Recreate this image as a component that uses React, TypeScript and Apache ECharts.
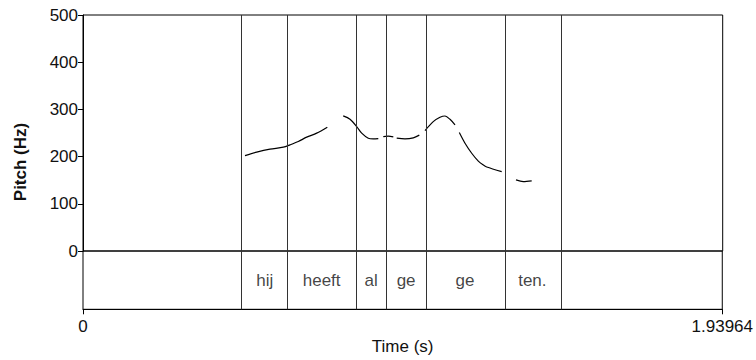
import React, { useEffect, useRef } from "react";
import * as echarts from "echarts";

const X_MAX = 1.93964;
const yTicks = [0, 100, 200, 300, 400, 500];
const boundaries = [0.483, 0.6195, 0.8287, 0.9197, 1.041, 1.2765, 1.4503];
const words = ["hij", "heeft", "al", "ge", "ge", "ten."];

// pitch contour (time s, Hz); null breaks the line
const pitchTimes = [
  0.4912, 0.5267, 0.567, 0.6074, 0.6277, 0.6528, 0.6783, 0.7086, 0.7408, 0.76,
  0.789, 0.8096, 0.8299, 0.845, 0.865, 0.88, 0.8954, 0.903,
  0.9105, 0.9257, 0.9409, 0.946,
  0.9512, 0.9763, 1.0015, 1.0197, 1.028,
  1.037, 1.062, 1.0825, 1.0976, 1.1128, 1.128, 1.135,
  1.141, 1.1583, 1.1786, 1.1986, 1.214, 1.2241, 1.2695, 1.29,
  1.3129, 1.335, 1.3605,
];
const pitchValues: (number | null)[] = [
  202.2, 209.4, 215.7, 220, 224.9, 231.9, 241.2, 249.7, 262.4, null,
  286.4, 279.3, 263.7, 249.6, 239.0, 237.6, 238.2, null,
  242.5, 243.4, 241.9, null,
  239.1, 237.6, 239.8, 245.5, null,
  255.1, 274, 283.2, 286, 279, 267, null,
  251.0, 228.3, 207.1, 190.5, 182.0, 178.0, 168.3, null,
  150.6, 147.0, 148.5,
];

export default function App() {
  const ref = useRef<HTMLDivElement>(null);
  useEffect(() => {
    if (!ref.current) return;
    const chart = echarts.init(ref.current, undefined, { renderer: "svg" });
    const font = "'Liberation Sans', Arial, Helvetica, sans-serif";
    const lineColor = "#333";
    const bLines = boundaries.map((b) => ({ xAxis: b }));
    const mids = words.map((w, i) => ({
      value: [(boundaries[i] + boundaries[i + 1]) / 2, 0.5],
      name: w,
    }));
    chart.setOption({
      animation: false,
      textStyle: { fontFamily: font },
      grid: [
        { left: 83, right: 33.3, top: 15, bottom: 109, show: true, borderColor: "#000", borderWidth: 1 },
        { left: 83, right: 33.3, top: 251, bottom: 50.7, show: true, borderColor: "#000", borderWidth: 1 },
      ],
      xAxis: [
        { type: "value", gridIndex: 0, min: 0, max: X_MAX, show: false },
        {
          type: "value",
          gridIndex: 1,
          min: 0,
          max: X_MAX,
          interval: X_MAX,
          axisLine: { show: true, lineStyle: { color: "#000", width: 1 } },
          axisTick: { show: true, length: 5, lineStyle: { color: "#000" } },
          splitLine: { show: false },
          axisLabel: {
            fontSize: 17,
            color: "#111",
            margin: 9,
            fontFamily: font,
            formatter: (v: number) => (v === 0 ? "0" : String(X_MAX)),
          },
          name: "Time (s)",
          nameLocation: "middle",
          nameGap: 29,
          nameTextStyle: { fontSize: 17, color: "#111", fontFamily: font },
        },
      ],
      yAxis: [
        {
          type: "value",
          gridIndex: 0,
          min: yTicks[0],
          max: yTicks[yTicks.length - 1],
          interval: 100,
          axisLine: { show: true, lineStyle: { color: "#000", width: 1 } },
          axisTick: { show: true, length: 5, lineStyle: { color: "#000" } },
          splitLine: { show: false },
          axisLabel: { fontSize: 17, color: "#111", margin: 5, fontFamily: font },
        },
        { type: "value", gridIndex: 1, min: 0, max: 1, show: false },
      ],
      graphic: [
        {
          type: "text",
          x: 20,
          y: 162,
          rotation: Math.PI / 2,
          style: {
            text: "Pitch (Hz)",
            font: `bold 17px ${font}`,
            fill: "#111",
            textAlign: "center",
            textVerticalAlign: "middle",
            align: "center",
            verticalAlign: "middle",
          },
        },
      ],
      series: [
        {
          type: "line",
          xAxisIndex: 0,
          yAxisIndex: 0,
          data: pitchTimes.map((t, i) => [t, pitchValues[i] === null ? "-" : pitchValues[i]]),
          showSymbol: false,
          smooth: 0.3,
          connectNulls: false,
          lineStyle: { color: "#000", width: 1.2 },
          silent: true,
          markLine: {
            silent: true,
            symbol: "none",
            label: { show: false },
            lineStyle: { color: lineColor, width: 1, type: "solid" },
            data: bLines,
          },
        },
        {
          type: "scatter",
          xAxisIndex: 1,
          yAxisIndex: 1,
          symbolSize: 0,
          data: mids,
          silent: true,
          label: {
            show: true,
            position: "inside",
            formatter: (p: any) => p.name,
            fontSize: 17,
            color: "#111",
            fontFamily: font,
          },
          markLine: {
            silent: true,
            symbol: "none",
            label: { show: false },
            lineStyle: { color: lineColor, width: 1, type: "solid" },
            data: bLines,
          },
        },
      ],
    });
    return () => chart.dispose();
  }, []);
  return <div ref={ref} style={{ width: 756, height: 360, position: "absolute", left: 0, top: 0 }} />;
}
